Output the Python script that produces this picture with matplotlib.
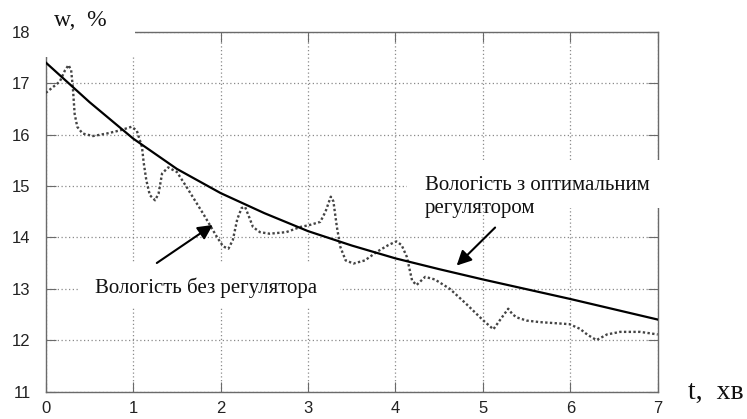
import matplotlib
matplotlib.use("Agg")
import matplotlib.pyplot as plt
from matplotlib.patches import Rectangle

# ---- data ----
t_opt = [0, 0.5, 1, 1.5, 2, 2.5, 3, 3.5, 4, 4.5, 5, 5.5, 6, 6.5, 7]
w_opt = [17.40, 16.63, 15.92, 15.33, 14.86, 14.47, 14.12, 13.84, 13.59, 13.38, 13.18, 12.99, 12.80, 12.60, 12.40]

t_raw = [0.0, 0.16, 0.22, 0.26, 0.29, 0.31, 0.33, 0.36, 0.42, 0.54, 0.7, 0.85, 0.98, 1.04,
         1.10, 1.12, 1.15, 1.19, 1.25, 1.29, 1.33, 1.40, 1.5, 1.61, 1.8, 1.96, 2.03, 2.09,
         2.14, 2.19, 2.24, 2.28, 2.32, 2.37, 2.45, 2.56, 2.75, 2.91, 3.02, 3.14, 3.2, 3.26, 3.29, 3.33,
         3.37, 3.43, 3.52, 3.65, 3.79, 3.92, 4.01, 4.07, 4.13, 4.19, 4.24, 4.29, 4.34, 4.45,
         4.62, 4.8, 5.0, 5.12, 5.2, 5.29, 5.34, 5.39, 5.5, 5.65, 5.99, 6.11, 6.2, 6.3, 6.42,
         6.57, 6.8, 7.0]
w_raw = [16.81, 17.03, 17.25, 17.35, 17.25, 16.9, 16.4, 16.15, 16.02, 15.97, 16.02, 16.08, 16.15, 16.08,
         15.76, 15.45, 15.11, 14.82, 14.72, 14.85, 15.24, 15.36, 15.27, 14.98, 14.46, 14.0, 13.82, 13.78,
         13.95, 14.35, 14.57, 14.59, 14.42, 14.2, 14.1, 14.07, 14.1, 14.2, 14.24, 14.3, 14.5, 14.79, 14.7, 14.2,
         13.81, 13.55, 13.49, 13.55, 13.72, 13.85, 13.92, 13.85, 13.62, 13.16, 13.07, 13.15, 13.23, 13.18,
         13.0, 12.72, 12.39, 12.21, 12.4, 12.61, 12.5, 12.44, 12.38, 12.35, 12.31, 12.22, 12.1, 12.0, 12.11,
         12.16, 12.16, 12.11]

x_ticks = [0, 1, 2, 3, 4, 5, 6, 7]
y_ticks = [11, 12, 13, 14, 15, 16, 17, 18]

label_raw = "Вологість без регулятора"
label_opt = "Вологість з оптимальним\nрегулятором"
y_label = "w,  %"
x_label = "t,  хв"

# ---- figure ----
W, H = 747, 419
fig = plt.figure(figsize=(W / 100, H / 100), dpi=100)
ax = fig.add_axes([45.8 / W, 1 - 391.5 / H, (657.7 - 45.8) / W, (391.5 - 31.7) / H])

def px(x, y):
    return x / W, 1 - y / H

ax.set_xlim(0, 7)
ax.set_ylim(11, 18)
ax.set_xticks(x_ticks)
ax.set_yticks(y_ticks)
ax.set_axisbelow(True)
ax.grid(True, color="#8a8a8a", linestyle=(0, (1, 2)), linewidth=0.9)
for s in ax.spines.values():
    s.set_color("#6a6a6a")
    s.set_linewidth(1.0)
ax.tick_params(direction="in", length=7, top=True, right=True, color="#6a6a6a",
               labelsize=12, labelcolor="#222222")
ax.tick_params(axis="y", pad=11)
ax.tick_params(axis="x", pad=7)
for lab in ax.get_xticklabels() + ax.get_yticklabels():
    lab.set_fontfamily("Liberation Sans")

ax.plot(t_raw, w_raw, color="#444444", linestyle=(0, (1, 1)), linewidth=1.7, zorder=3)
ax.plot(t_opt, w_opt, color="black", linewidth=1.6, zorder=4)

serif = "Liberation Serif"

# white masks over grid/frame behind the texts
for (x0, y0, x1, y1) in [(44, 0, 135, 57), (78, 262, 340, 307), (407, 160, 672, 208)]:
    a, b = px(x0, y1)
    ax.add_patch(Rectangle((a, b), (x1 - x0) / W, (y1 - y0) / H, transform=fig.transFigure,
                           facecolor="white", edgecolor="none", zorder=2.7, clip_on=False))

ax.annotate("", xy=(1.91, 14.24), xytext=(1.27, 13.5),
            arrowprops=dict(arrowstyle="-|>", color="black", lw=1.5, mutation_scale=22,
                            shrinkA=0, shrinkB=0), zorder=6)
ax.annotate("", xy=(4.70, 13.45), xytext=(5.14, 14.19),
            arrowprops=dict(arrowstyle="-|>", color="black", lw=1.5, mutation_scale=22,
                            shrinkA=0, shrinkB=0), zorder=6)

fig.text(*px(206, 288), label_raw, ha="center", va="center", fontsize=15,
         family=serif, color="#111111", zorder=7)
fig.text(*px(425, 197), label_opt, ha="left", va="center", fontsize=15,
         family=serif, color="#111111", linespacing=1.25, zorder=7)
fig.text(*px(80, 21), y_label, ha="center", va="center", fontsize=17,
         family=serif, color="#111111", zorder=7)
fig.text(*px(716, 392), x_label, ha="center", va="center", fontsize=20,
         family=serif, color="#111111", zorder=7)

fig.savefig("out.png", dpi=100)
